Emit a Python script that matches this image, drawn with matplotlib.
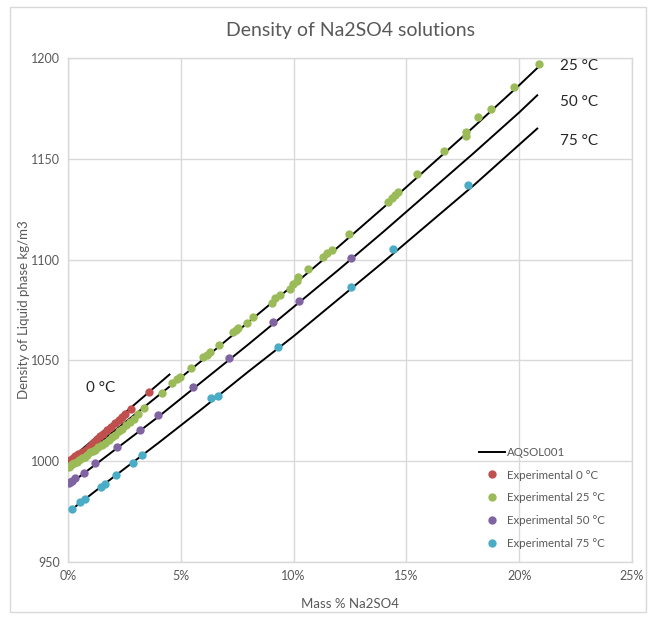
import matplotlib
matplotlib.use("Agg")
import matplotlib.pyplot as plt
from matplotlib.ticker import FuncFormatter, MultipleLocator
from matplotlib.lines import Line2D
from matplotlib.patches import Rectangle

plt.rcParams['font.family'] = ['Lato', 'DejaVu Sans']

# ---- model lines (AQSOL001) ----
line0_x = [0.0, 2.0, 4.5]
line0_y = [1000.0, 1019.0, 1043.0]
line25_x = [0.0, 2.0, 4.0, 6.0, 8.0, 10.0, 12.0, 14.0, 16.0, 18.0, 20.0, 20.8]
line25_y = [997.0, 1014.5, 1032.5, 1050.5, 1069.0, 1087.5, 1106.5, 1126.0, 1146.0, 1166.0, 1186.5, 1195.0]
line50_x = [0.0, 2.0, 4.0, 6.0, 8.0, 10.0, 12.0, 14.0, 16.0, 18.0, 20.0, 20.8]
line50_y = [988.0, 1005.0, 1022.0, 1040.0, 1058.0, 1076.5, 1095.0, 1114.0, 1133.5, 1153.0, 1173.0, 1181.5]
line75_x = [0.1, 2.0, 4.0, 6.0, 8.0, 10.0, 12.0, 14.0, 16.0, 18.0, 20.0, 20.8]
line75_y = [975.5, 992.0, 1009.0, 1026.5, 1044.5, 1062.0, 1080.5, 1099.0, 1118.0, 1137.0, 1157.0, 1165.0]

# ---- experimental data ----
exp0_x = [0.0, 0.1, 0.2, 0.31, 0.45, 0.62, 0.78, 0.93, 1.05, 1.15, 1.3, 1.42, 1.55,
          1.73, 1.9, 2.08, 2.25, 2.39, 2.53, 2.79, 3.59]
exp0_y = [1000.0, 1000.8, 1001.6, 1002.5, 1003.6, 1004.6, 1005.8, 1007.0, 1008.3, 1009.5,
          1011.0, 1012.5, 1013.5, 1015.5, 1017.0, 1019.0, 1020.5, 1022.0, 1023.5, 1026.0, 1034.3]

exp25_x = [0.03, 0.1, 0.18, 0.28, 0.4, 0.5, 0.62, 0.74, 0.84, 0.99, 1.1, 1.21, 1.35, 1.51,
           1.65, 1.8, 1.95, 2.1, 2.25, 2.39, 2.55, 2.76, 2.91, 3.1, 3.35, 4.15, 4.6, 4.82,
           4.96, 5.45, 6.0, 6.15, 6.29, 6.69, 7.3, 7.45, 7.55, 7.92, 8.19, 9.03, 9.18, 9.4,
           9.84, 9.99, 10.14, 10.21, 10.65, 11.32, 11.47, 11.69, 12.47, 14.2, 14.35, 14.49,
           14.64, 15.48, 16.67, 17.64, 17.64, 18.16, 18.76, 19.77, 20.88]
exp25_y = [997.3, 997.8, 998.5, 999.2, 999.8, 1000.6, 1001.4, 1002.3, 1003.0, 1004.5, 1005.0,
           1005.6, 1007.0, 1008.0, 1009.2, 1010.5, 1011.8, 1013.0, 1014.8, 1016.0, 1018.0,
           1019.5, 1021.0, 1023.5, 1026.5, 1034.0, 1038.6, 1040.8, 1041.9, 1046.0, 1051.5,
           1052.7, 1054.0, 1057.6, 1063.9, 1065.0, 1065.9, 1068.4, 1071.7, 1078.6, 1080.8,
           1082.4, 1085.3, 1087.9, 1089.5, 1091.5, 1095.2, 1101.4, 1103.1, 1104.8, 1112.5,
           1128.7, 1130.4, 1132.0, 1133.7, 1142.5, 1154.0, 1163.4, 1161.3, 1170.6, 1174.7,
           1185.8, 1197.0]

exp50_x = [0.03, 0.1, 0.18, 0.33, 0.69, 1.21, 2.17, 3.18, 3.99, 5.55, 7.14, 9.1, 10.25, 12.55]
exp50_y = [989.0, 989.6, 990.3, 991.5, 994.0, 999.0, 1007.0, 1015.5, 1022.9, 1037.0, 1051.0,
           1069.2, 1079.6, 1101.0]

exp75_x = [0.16, 0.55, 0.77, 1.48, 1.63, 2.14, 2.88, 3.28, 6.34, 6.63, 9.32, 12.54, 14.42, 17.74]
exp75_y = [976.3, 980.0, 981.1, 987.4, 988.7, 993.2, 999.3, 1003.1, 1031.2, 1032.3, 1056.8,
           1086.6, 1105.1, 1137.0]

c0, c25, c50, c75 = '#C0504D', '#9BBB59', '#8064A2', '#4BACC6'
grid_c = '#D9D9D9'
txt_c = '#595959'

fig = plt.figure(figsize=(6.53, 6.17), dpi=100)
ax = fig.add_axes([68/653, 1-562/617, (632-68)/653, (562-58)/617])

for lx, ly in [(line0_x, line0_y), (line25_x, line25_y), (line50_x, line50_y), (line75_x, line75_y)]:
    ax.plot(lx, ly, color='black', lw=1.4, zorder=2)

ms = 36
ax.scatter(exp0_x, exp0_y, s=ms, color=c0, zorder=3, linewidths=0)
ax.scatter(exp25_x, exp25_y, s=ms, color=c25, zorder=3, linewidths=0)
ax.scatter(exp50_x, exp50_y, s=ms, color=c50, zorder=3, linewidths=0)
ax.scatter(exp75_x, exp75_y, s=ms, color=c75, zorder=3, linewidths=0)

ax.set_xlim(0, 25)
ax.set_ylim(950, 1200)
ax.xaxis.set_major_locator(MultipleLocator(5))
ax.yaxis.set_major_locator(MultipleLocator(50))
ax.xaxis.set_major_formatter(FuncFormatter(lambda v, p: f"{v:.0f}%"))
ax.grid(True, color=grid_c, lw=1.0, zorder=0)
ax.set_axisbelow(True)
for s in ax.spines.values():
    s.set_color(grid_c)
    s.set_linewidth(1.0)
ax.tick_params(length=0, labelsize=9, colors=txt_c, pad=6)

ax.set_title("Density of Na2SO4 solutions", fontsize=14, color=txt_c, pad=16)
ax.set_xlabel("Mass % Na2SO4", fontsize=9.5, color=txt_c)
ax.xaxis.set_label_coords(0.5, -(598-562)/504)
ax.set_ylabel("Density of Liquid phase kg/m3", fontsize=9.5, color=txt_c)
ax.yaxis.set_label_coords(-(68-30)/564, 0.5)

ax.text(1.46, 1036.5, "0 °C", fontsize=11, color='#262626', ha='center', va='center')
ax.text(22.65, 1196, "25 °C", fontsize=11, color='#262626', ha='center', va='center')
ax.text(22.65, 1178, "50 °C", fontsize=11, color='#262626', ha='center', va='center')
ax.text(22.65, 1159, "75 °C", fontsize=11, color='#262626', ha='center', va='center')

handles = [Line2D([0], [0], color='black', lw=1.4),
           Line2D([0], [0], ls='none', marker='o', ms=6, color=c0, mew=0),
           Line2D([0], [0], ls='none', marker='o', ms=6, color=c25, mew=0),
           Line2D([0], [0], ls='none', marker='o', ms=6, color=c50, mew=0),
           Line2D([0], [0], ls='none', marker='o', ms=6, color=c75, mew=0)]
labels = ["AQSOL001", "Experimental 0 °C", "Experimental 25 °C",
          "Experimental 50 °C", "Experimental 75 °C"]
leg = ax.legend(handles, labels, loc='lower left',
                bbox_to_anchor=((470-68)/564, (562-558)/504),
                frameon=False, fontsize=8.3, labelspacing=1.02, handlelength=2.2,
                handletextpad=0.25, borderpad=0.3)
for t in leg.get_texts():
    t.set_color(txt_c)

fig.add_artist(Rectangle((10/653, 1-612/617), (646-10)/653, (612-7)/617,
                         transform=fig.transFigure, fill=False, ec=grid_c, lw=1.0))

fig.savefig("out.png", dpi=100)
